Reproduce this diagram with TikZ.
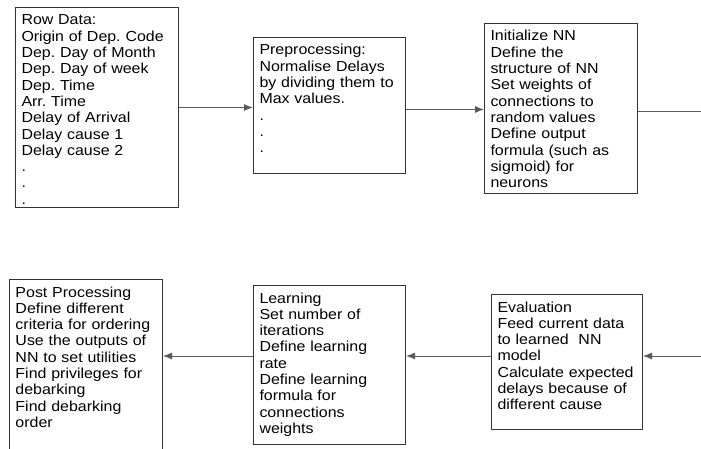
\documentclass[tikz,border=0pt]{standalone}
\usepackage{fontspec}
\setmainfont[FakeStretch=1.1]{Liberation Sans}
\usetikzlibrary{arrows.meta}
\definecolor{boxgray}{HTML}{333333}
\definecolor{linegray}{HTML}{5A5A5A}
\frenchspacing

\begin{document}
\begin{tikzpicture}[x=1pt,y=-1pt,
 stage/.style={draw=boxgray,line width=1pt,anchor=north west,align=left,
 inner xsep=6pt,inner ysep=7pt,text height=10.5pt,
 font=\fontsize{14.5}{16.3}\selectfont},
 flow/.style={linegray,line width=1pt,-{Latex[length=9pt,width=7pt]}},
 link/.style={linegray,line width=1pt}]
 \useasboundingbox (0,0) rectangle (701,449);
 % top row
 \node[stage,text width=151pt,text depth=175.5pt] (rowdata) at (15,7)
 {Row Data:\\Origin of Dep. Code\\Dep. Day of Month\\Dep. Day of week\\
 Dep. Time\\Arr. Time\\Delay of Arrival\\Delay cause 1\\Delay cause 2\\.\\.\\.};
 \node[stage,text width=140pt,text depth=111.5pt] (prep) at (253,37)
 {Preprocessing:\\Normalise Delays\\by dividing them to\\Max values.\\.\\.\\.};
 \node[stage,text width=141pt,text depth=145.5pt] (init) at (484,23)
 {Initialize NN\\Define the\\structure of NN\\Set weights of\\connections to\\
 random values\\Define output\\formula (such as\\sigmoid) for\\neurons};
 % bottom row
 \node[stage,text width=141pt,text depth=155.5pt] (post) at (9,279)
 {Post Processing\\Define different\\criteria for ordering\\Use the outputs of\\
 NN to set utilities\\Find privileges for\\debarking\\Find debarking\\order};
 \node[stage,text width=140pt,text depth=134.5pt] (learn) at (253,285)
 {Learning\\Set number of\\iterations\\Define learning\\rate\\Define learning\\
 formula for\\connections\\weights};
 \node[stage,text width=139pt,text depth=110.5pt] (eval) at (491,294)
 {Evaluation\\Feed current data\\to learned~ NN\\model\\Calculate expected\\
 delays because of\\different cause};
 \coordinate (outR) at (701,112);
 \coordinate (inR) at (701,356);
 \draw[flow] (rowdata.east) -- (rowdata.east -| prep.west);
 \draw[flow] ([yshift=-4pt]prep.east) -- ([yshift=-4pt]prep.east -| init.west);
 \draw[link] (init.east |- outR) -- (outR);
 \draw[flow] (inR) -- (inR -| eval.east);
 \draw[flow] (eval.west |- inR) -- (inR -| learn.east);
 \draw[flow] (learn.west |- inR) -- (inR -| post.east);
\end{tikzpicture}
\end{document}
